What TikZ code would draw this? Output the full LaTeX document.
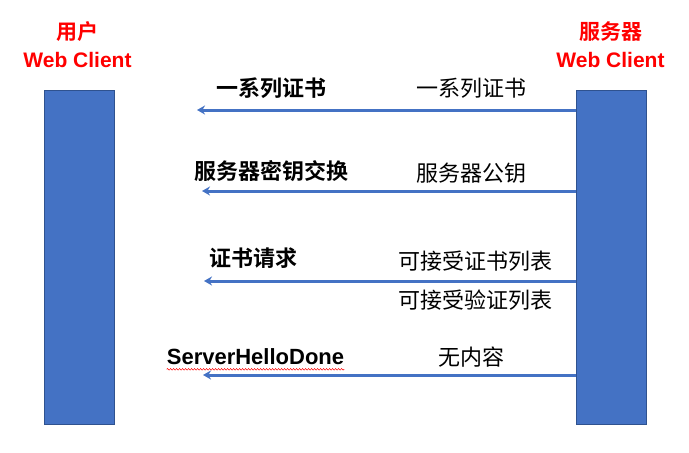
\documentclass[tikz,border=0pt]{standalone}
\usepackage{fontspec}
\setmainfont{Liberation Sans}
\newfontfamily\cjk{Noto Sans CJK SC}[BoldFont={Noto Sans CJK SC Bold}]
\usepackage{tikz}
\usetikzlibrary{
  arrows.meta, positioning, calc, decorations.pathmorphing
}
\definecolor{barfill}{HTML}{4472C4}
\definecolor{bardraw}{HTML}{2F528F}
\definecolor{titlered}{HTML}{FF0000}

\begin{document}
\begin{tikzpicture}[x=1pt, y=-1pt,
  bar/.style={draw=bardraw, line width=1pt, fill=barfill, anchor=north west,
    minimum width=70pt, minimum height=334pt, inner sep=0pt},
  title/.style={text=titlered, font=\fontsize{21}{24}\selectfont\bfseries, inner sep=0pt},
  msg/.style={barfill, line width=3pt, -{Stealth[length=8pt, width=9pt]}},
  lbl/.style={font=\fontsize{22}{24}\selectfont\cjk\bfseries, inner sep=0pt},
  info/.style={font=\fontsize{22}{24}\selectfont\cjk, inner sep=0pt}]
  \useasboundingbox (0,0) rectangle (689,453);
  % Lifelines
  \node[bar] (client) at (43.5,89.5) {};
  \node[bar] (server) at (575.5,89.5) {};
  % Titles
  \node[title] (clientcn) at (77.5,32) {\cjk 用户};
  \node[title] (clientname) at (77.5,60) {Web Client};
  \node[title] (servercn) at (610.5,32) {\cjk 服务器};
  \node[title] (servername) at (610.5,60) {Web Client};
  % Message ends
  \coordinate (e1) at (197,110);
  \coordinate (e2) at (202,191);
  \coordinate (e3) at (204,281);
  \coordinate (e4) at (203,375);
  \foreach \e in {e1,e2,e3,e4}
    \draw[msg] (\e -| server.west) -- (\e);
  % Message names
  \node[lbl] (cert) at (271,88) {一系列证书};
  \node[lbl] (keyex) at (271,171) {服务器密钥交换};
  \node[lbl] (certreq) at (253,258) {证书请求};
  \node[lbl, font=\fontsize{22}{24}\selectfont\bfseries] (done) at (255.5,357) {ServerHelloDone};
  \draw[titlered, line width=0.5pt, decorate,
    decoration={snake, amplitude=0.8pt, segment length=3pt}]
    ($(done.south west)+(0,4)$) -- ($(done.south east)+(0,4)$);
  % Message contents
  \node[info] (certlist) at (471,88) {一系列证书};
  \node[info] (pubkey) at (471,173) {服务器公钥};
  \node[info] (calist) at (475,261) {可接受证书列表};
  \node[info] (verlist) at (475,300) {可接受验证列表};
  \node[info] (empty) at (471.5,357) {无内容};
\end{tikzpicture}
\end{document}
